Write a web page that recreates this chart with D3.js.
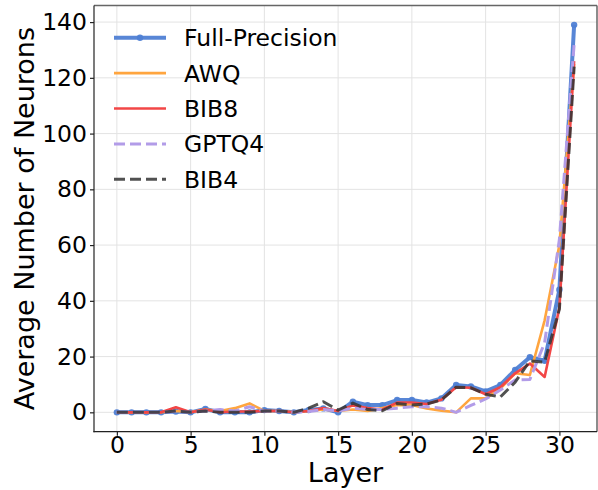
<!DOCTYPE html>
<html>
<head>
<meta charset="utf-8">
<script src="https://cdn.jsdelivr.net/npm/d3@7"></script>
<style>
  html, body { margin: 0; padding: 0; background: #fff; }
  svg { display: block; }
  text { font-family: "DejaVu Sans", sans-serif; fill: #000; }
</style>
</head>
<body>
<svg id="chart" width="598" height="490"></svg>
<script>
// Layer index 0..31
const layers = d3.range(0, 32);

// Average number of neurons per layer for each model variant
const fullPrecision = [0,0,0,0,0.3,0,1.2,0,0,0,0.8,0.5,0,0.8,1.4,0,3.8,2.6,2.6,4.4,4.4,3.5,5,9.8,9.3,7.5,9.8,15.2,19.8,18.5,44,139];
const awq          = [0,0,0,0,0.5,0,1,0.5,1.5,3.2,0.5,0.5,0,0.5,1,0.5,1,0.5,1.5,2.6,2.6,1.4,0.6,0,5,5,8.5,14,13.4,33,60,125];
const bib8         = [0,0,0,0,1.8,0,1,0,0.3,0.3,0.5,0.5,0,0.5,1.5,0.5,2.5,1.5,1,3.5,3.5,3,4.5,9,8.8,6.5,9,14,17.5,12.7,37.5,126];
const gptq4        = [0,0,0,0,0.3,0,0.5,1,0.5,2,0.5,0.5,0,0.3,1,0.5,1.5,1,1,1.5,2,2,1.5,0,2.5,4.8,8,11.6,11.8,25,62,132];
const bib4         = [0,0,0,0,0.5,0,0.5,0,0,0,0.5,0.5,0,1.5,3.8,0.8,3.3,1,0.6,3.2,2.6,3,4.4,9,8.8,6.5,5.5,10.8,18.5,18,37,124];

const xTicks = [0, 5, 10, 15, 20, 25, 30];
const yTicks = [0, 20, 40, 60, 80, 100, 120, 140];

const seriesList = [
  { name: "Full-Precision", values: fullPrecision, color: "#4f7fd4", width: 4,   dash: null,   opacity: 0.95, markers: true },
  { name: "AWQ",            values: awq,           color: "#ffa53f", width: 2.6, dash: null,   opacity: 1,    markers: false },
  { name: "BIB8",           values: bib8,          color: "#f24646", width: 2.6, dash: null,   opacity: 1,    markers: false },
  { name: "GPTQ4",          values: gptq4,         color: "#b29ce8", width: 3,   dash: "11,5", opacity: 1,    markers: false },
  { name: "BIB4",           values: bib4,          color: "#333333", width: 3,   dash: "11,5", opacity: 0.85, markers: false }
];

const svg = d3.select("#chart");
const plot = { left: 94, right: 597, top: 5.5, bottom: 431.7 };

// Axis ranges with 5% padding around the data extent
const xMin = 0, xMax = 31, yMin = 0, yMax = d3.max(fullPrecision);
const xPad = (xMax - xMin) * 0.05, yPad = (yMax - yMin) * 0.05;
const x = d3.scaleLinear().domain([xMin - xPad, xMax + xPad]).range([plot.left, plot.right]);
const y = d3.scaleLinear().domain([yMin - yPad, yMax + yPad]).range([plot.bottom, plot.top]);

// Grid
const grid = svg.append("g").attr("stroke", "#e3e3e3").attr("stroke-width", 1);
xTicks.forEach(t => grid.append("line")
  .attr("x1", x(t)).attr("x2", x(t)).attr("y1", plot.top).attr("y2", plot.bottom));
yTicks.forEach(t => grid.append("line")
  .attr("x1", plot.left).attr("x2", plot.right).attr("y1", y(t)).attr("y2", y(t)));

// Series lines
const line = d3.line().x((d, i) => x(layers[i])).y(d => y(d));
const g = svg.append("g");
seriesList.forEach(s => {
  g.append("path")
    .datum(s.values)
    .attr("d", line)
    .attr("fill", "none")
    .attr("stroke", s.color)
    .attr("stroke-width", s.width)
    .attr("stroke-opacity", s.opacity)
    .attr("stroke-linejoin", "round")
    .attr("stroke-dasharray", s.dash);
  if (s.markers) {
    g.selectAll(null).data(s.values).enter().append("circle")
      .attr("cx", (d, i) => x(layers[i]))
      .attr("cy", d => y(d))
      .attr("r", 3.2)
      .attr("fill", s.color)
      .attr("fill-opacity", s.opacity);
  }
});

// Axes
const xAxis = d3.axisBottom(x).tickValues(xTicks).tickSize(4).tickPadding(1).tickSizeOuter(0);
const yAxis = d3.axisLeft(y).tickValues(yTicks).tickSize(4).tickPadding(3).tickSizeOuter(0);

const gx = svg.append("g").attr("transform", `translate(0,${plot.bottom})`).call(xAxis);
const gy = svg.append("g").attr("transform", `translate(${plot.left},0)`).call(yAxis);
[gx, gy].forEach(a => {
  a.select(".domain").remove();
  a.selectAll(".tick line").attr("stroke", "#222").attr("stroke-width", 1.2);
  a.selectAll(".tick text").attr("font-size", 23.5).attr("font-family", "DejaVu Sans").attr("fill", "#000");
});

// Frame
svg.append("line").attr("x1", plot.left).attr("x2", plot.right).attr("y1", plot.top).attr("y2", plot.top)
  .attr("stroke", "#666").attr("stroke-width", 1.5);
svg.append("line").attr("x1", plot.right).attr("x2", plot.right).attr("y1", plot.top).attr("y2", plot.bottom)
  .attr("stroke", "#666").attr("stroke-width", 1.5);
svg.append("line").attr("x1", plot.left).attr("x2", plot.left).attr("y1", plot.top).attr("y2", plot.bottom + 0.6)
  .attr("stroke", "#222").attr("stroke-width", 1.2);
svg.append("line").attr("x1", plot.left - 0.6).attr("x2", plot.right).attr("y1", plot.bottom).attr("y2", plot.bottom)
  .attr("stroke", "#222").attr("stroke-width", 1.2);

// Axis titles
svg.append("text")
  .attr("x", (plot.left + plot.right) / 2).attr("y", 482)
  .attr("text-anchor", "middle").attr("font-size", 27)
  .text("Layer");
svg.append("text")
  .attr("transform", `translate(34,${(plot.top + plot.bottom) / 2}) rotate(-90)`)
  .attr("text-anchor", "middle").attr("font-size", 27)
  .text("Average Number of Neurons");

// Legend
const legend = svg.append("g");
seriesList.forEach((s, i) => {
  const ly = 37.7 + i * 35.4;
  legend.append("line")
    .attr("x1", 114).attr("x2", 166).attr("y1", ly).attr("y2", ly)
    .attr("stroke", s.color).attr("stroke-width", s.width)
    .attr("stroke-opacity", s.opacity)
    .attr("stroke-dasharray", s.dash);
  if (s.markers) {
    legend.append("circle").attr("cx", 140).attr("cy", ly).attr("r", 3.2)
      .attr("fill", s.color).attr("fill-opacity", s.opacity);
  }
  legend.append("text")
    .attr("x", 184).attr("y", ly).attr("dy", "0.36em")
    .attr("font-size", 23.5)
    .text(s.name);
});
</script>
</body>
</html>
